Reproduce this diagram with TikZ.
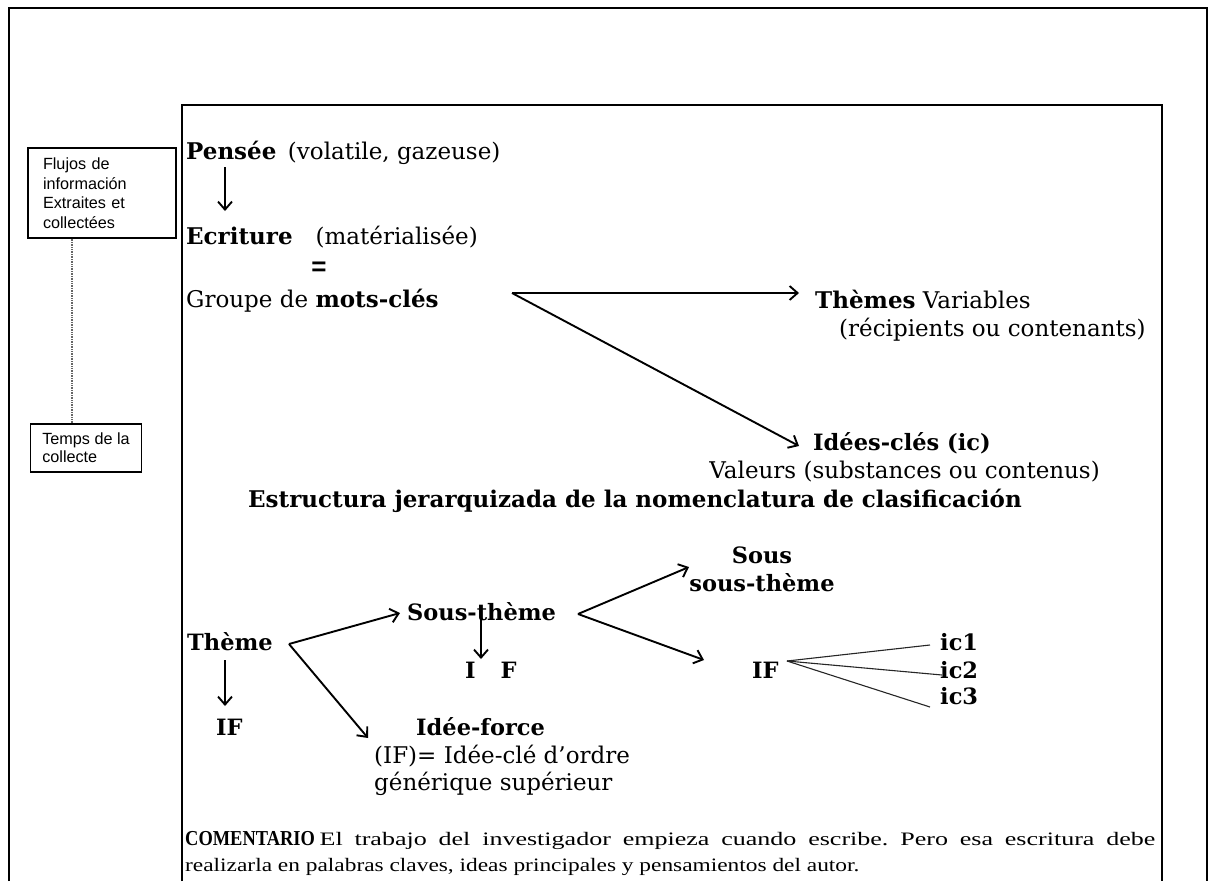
\documentclass[tikz,border=0pt]{standalone}
\usepackage{fontspec}
\setmainfont{DejaVu Serif}
\newfontfamily\boxfont{Liberation Sans}
\newfontfamily\cmtfont{Liberation Serif}
\usetikzlibrary{arrows.meta}
\frenchspacing
\begin{document}
\begin{tikzpicture}[x=1pt,y=-1pt,
  frame/.style={line width=1.4pt},
  txt/.style={anchor=base west,inner sep=0pt,font=\fontsize{23}{27}\selectfont},
  btxt/.style={anchor=base west,inner sep=0pt,font=\fontsize{22.5}{27}\selectfont\bfseries},
  arr/.style={-{Straight Barb[length=8pt,width=14pt]},line width=1.9pt},
  thin/.style={line width=1.1pt,draw=black!85},
  sidebox/.style={draw,line width=1.2pt,align=left,inner ysep=0pt,font=\boxfont\fontsize{16.2}{19.5}\selectfont},
  dotline/.style={line width=2pt,draw=black!60,dash pattern=on 1pt off 0.7pt}]
\useasboundingbox (0,0) rectangle (1210,881);
% frames
\draw[frame] (9,881) -- (9,8) -- (1207,8) -- (1207,881);
\draw[frame] (182,881) -- (182,105) -- (1162,105) -- (1162,881);
% side boxes
\node[sidebox,inner xsep=15pt,text width=118pt,minimum height=90pt] (flujos) at (102,193) {Flujos de\\información\\Extraites et\\collectées};
\node[sidebox,inner xsep=12pt,minimum width=108pt,minimum height=48pt] (temps) at (86,448) {Temps de la\\[-1.5pt]collecte};
\coordinate (d1) at (flujos.south -| 72,0);
\coordinate (d2) at (temps.north -| 72,0);
\draw[dotline] (d1) -- (d2);
% top part
\node[txt] (pensee) at (186,159) {\textbf{Pensée}\enspace(volatile, gazeuse)};
\node[txt] (ecriture) at (186,244) {\textbf{Ecriture}\quad(matérialisée)};
\node[anchor=center,inner sep=0pt,font=\boxfont\fontsize{26}{28}\selectfont\bfseries] (eq) at (319,269) {=};
\node[txt] (groupe) at (186,307) {Groupe de \textbf{mots-clés}};
\node[txt] (themes) at (815,308) {\textbf{Thèmes} Variables};
\node[txt] (recip) at (839,336) {(récipients ou contenants)};
\node[btxt] (idees) at (813,450) {Idées-clés (ic)};
\node[txt,anchor=base east] (valeurs) at (1100,478) {Valeurs (substances ou contenus)};
\coordinate (pa) at (225,167);
\coordinate (pb) at (225,211);
\draw[arr] (pa) -- (pb);
\coordinate (g0) at (512,293);
\coordinate (g1) at (799,293);
\coordinate (g2) at (799,446);
\draw[arr] (g0) -- (g1);
\draw[arr] (g0) -- (g2);
% title
\node[btxt,font=\fontsize{23}{27}\selectfont\bfseries] (titre) at (248,507) {Estructura jerarquizada de la nomenclatura de clasificación};
% hierarchy
\node[btxt] (theme) at (187,650) {Thème};
\node[btxt] (ifa) at (216,735) {IF};
\node[btxt] (sth) at (407,620) {Sous-thème};
\node[btxt] (ifb) at (465,678) {I\hspace{25pt}F};
\node[btxt] (idf) at (416,735) {Idée-force};
\node[txt] (idf2) at (374,763) {(IF)= Idée-clé d'ordre};
\node[txt] (idf3) at (374,790) {générique supérieur};
\node[btxt,anchor=base,align=center,font=\fontsize{22.5}{28}\selectfont\bfseries] (ssth) at (762,591) {Sous\\sous-thème};
\node[btxt] (ifc) at (752,678) {IF};
\node[btxt] (ic1) at (940,650) {ic1};
\node[btxt] (ic2) at (940,678) {ic2};
\node[btxt] (ic3) at (940,704) {ic3};
\coordinate (t0) at (289,644);
\coordinate (t1) at (400,613);
\coordinate (t2) at (368,738);
\draw[arr] (t0) -- (t1);
\draw[arr] (t0) -- (t2);
\coordinate (ta) at (225,660);
\coordinate (tb) at (225,706);
\draw[arr] (ta) -- (tb);
\coordinate (sa) at (481,617);
\coordinate (sb) at (481,659);
\draw[arr] (sa) -- (sb);
\coordinate (s0) at (578,614);
\coordinate (s1) at (689,567);
\coordinate (s2) at (704,660);
\draw[arr] (s0) -- (s1);
\draw[arr] (s0) -- (s2);
\coordinate (f0) at (787,661);
\coordinate (e1) at (930,645);
\coordinate (e2) at (942,675);
\coordinate (e3) at (930,707);
\draw[thin] (f0) -- (e1);
\draw[thin] (f0) -- (e2);
\draw[thin] (f0) -- (e3);
% comment
\node[txt,font=\cmtfont\fontsize{19}{26}\selectfont] (cmt1) at (185,845) {\scalebox{0.97}[1.12]{\textbf{COMENTARIO}} \scalebox{1.37}[1]{\makebox[610pt][s]{El trabajo del investigador empieza cuando escribe. Pero esa escritura debe}}};
\node[txt,font=\cmtfont\fontsize{19}{26}\selectfont] (cmt2) at (185,871) {\scalebox{1.23}[1]{realizarla en palabras claves, ideas principales y pensamientos del autor.}};
\end{tikzpicture}
\end{document}
